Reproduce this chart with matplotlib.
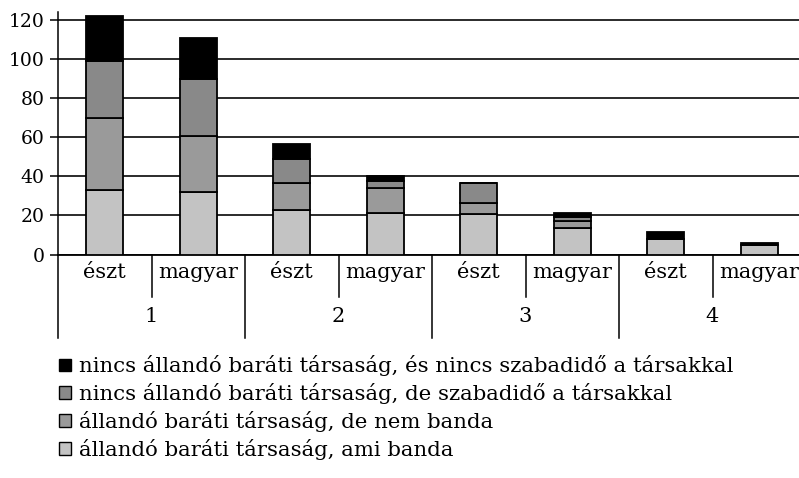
import matplotlib
matplotlib.use("Agg")
import matplotlib.pyplot as plt
import matplotlib.transforms as mtransforms
import numpy as np

plt.rcParams['font.family'] = ['DejaVu Serif']

# ---- data ----
groups = ["1", "2", "3", "4"]
subcats = ["észt", "magyar"]
series_labels = [
    "állandó baráti társaság, ami banda",
    "állandó baráti társaság, de nem banda",
    "nincs állandó baráti társaság, de szabadidő a társakkal",
    "nincs állandó baráti társaság, és nincs szabadidő a társakkal",
]
# order of bars: 1-észt, 1-magyar, 2-észt, 2-magyar, 3-észt, 3-magyar, 4-észt, 4-magyar
banda       = [33, 32, 23, 21, 20.5, 13.7, 7.9, 5.0]
nem_banda   = [37, 28.5, 13.6, 12.8, 6.0, 3.6, 0, 0]
szabadido   = [29, 29, 12, 3.9, 10.0, 2.0, 0, 0]
nincs       = [23, 21, 7.7, 2.4, 0, 2.0, 3.4, 0.8]
yticks = [0, 20, 40, 60, 80, 100, 120]

colors = ["#c3c3c3", "#9a9a9a", "#898989", "#000000"]

W, H = 799, 478
fig = plt.figure(figsize=(W / 100, H / 100), dpi=100)
ax_left, ax_right, ax_bottom, ax_top = 58, 799, 254.5, 12
ax = fig.add_axes([ax_left / W, (H - ax_bottom) / H,
                   (ax_right - ax_left) / W, (ax_bottom - ax_top) / H])

n = len(groups) * len(subcats)
x = np.arange(n)
cat_px = 93.5
ax.set_xlim(-0.5, -0.5 + (ax_right - ax_left) / cat_px)
ax.set_ylim(0, 124)

series = [banda, nem_banda, szabadido, nincs]
bottom = np.zeros(n)
containers = []
for vals, col, lab in zip(series, colors, series_labels):
    v = np.array(vals, dtype=float)
    bc = ax.bar(x, v, width=0.4, bottom=bottom, color=col, edgecolor="black",
                linewidth=1.3, label=lab, zorder=3)
    containers.append(bc)
    bottom += v

# grid
ax.set_yticks(yticks)
ax.set_yticklabels([str(t) for t in yticks], fontsize=13.5)
ax.yaxis.grid(True, color="#1a1a1a", linewidth=1.3, zorder=0)
ax.set_axisbelow(True)
ax.tick_params(axis="y", length=6, width=1.1, pad=3.5, color="black")
ax.set_xticks([])
for s in ["top", "right"]:
    ax.spines[s].set_visible(False)
ax.spines["left"].set_linewidth(1.1)
ax.spines["bottom"].set_linewidth(1.3)

# multi-level x axis
trans = mtransforms.blended_transform_factory(ax.transData, fig.transFigure)
def fy(py):
    return (H - py) / H

for i in range(n):
    ax.text(x[i], fy(273), subcats[i % 2], transform=trans, ha="center",
            va="center", fontsize=15)
for g in range(len(groups)):
    ax.text(2 * g + 0.5, fy(317), groups[g], transform=trans, ha="center",
            va="center", fontsize=15)
    # short separator within group
    ax.plot([2 * g + 0.5, 2 * g + 0.5], [fy(254.5), fy(297)], transform=trans,
            color="black", linewidth=1.1, clip_on=False)
    # long separator at group start
    ax.plot([2 * g - 0.5, 2 * g - 0.5], [fy(254.5), fy(338)], transform=trans,
            color="black", linewidth=1.1, clip_on=False)

# legend
handles = [c.patches[0] for c in containers][::-1]
labels = series_labels[::-1]
leg = fig.legend(handles, labels, loc="upper left",
                 bbox_to_anchor=(51 / W, fy(347)), frameon=False,
                 fontsize=15.3, handlelength=0.55, handleheight=0.55,
                 handletextpad=0.38, labelspacing=0.32, borderaxespad=0)
for h in leg.legend_handles:
    h.set_linewidth(1.0)

fig.savefig("out.png", dpi=100)
